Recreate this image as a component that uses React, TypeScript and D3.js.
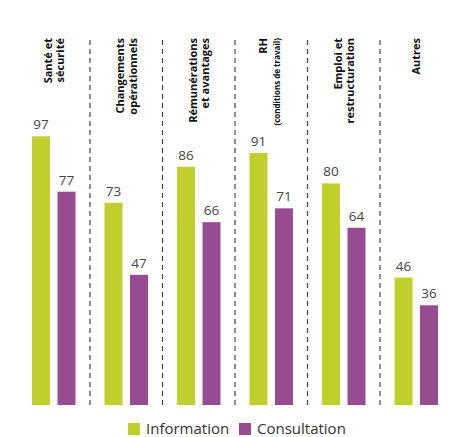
import React from "react";
import * as d3 from "d3";

const categories = ["Santé et sécurité", "Changements opérationnels", "Rémunérations et avantages", "RH", "Emploi et restructuration", "Autres"];
const labelLines = [["Santé et", "sécurité"], ["Changements", "opérationnels"], ["Rémunérations", "et avantages"], ["RH", "(conditions de travail)"], ["Emploi et", "restructuration"], ["Autres"]];
const seriesNames = ["Information", "Consultation"];
const information = [97, 73, 86, 91, 80, 46];
const consultation = [77, 47, 66, 71, 64, 36];
const colors = ["#c1cf2c", "#974c91"];

const W = 449, H = 437;

export default function App() {
  const x = d3.scaleBand<string>().domain(categories).range([16, 16 + 72.5 * categories.length]);
  const inner = d3.scaleBand<string>().domain(seriesNames).range([16, 59.5]).paddingInner(0.294).paddingOuter(0);
  const y = d3.scaleLinear().domain([0, 100]).range([405, 128]);
  const values = [information, consultation];

  return (
    <svg width={W} height={H} style={{ position: "absolute", left: 0, top: 0, background: "#fff" }} fontFamily="'Open Sans', sans-serif">
      {categories.slice(1).map((c) => (
        <line key={c} x1={x(c)! + 1.5} x2={x(c)! + 1.5} y1={40} y2={405} stroke="#444" strokeWidth={1.2} strokeDasharray="5,4" />
      ))}
      {categories.map((c, i) => (
        <g key={c}>
          {seriesNames.map((s, k) => {
            const v = values[k][i];
            const bx = x(c)! + inner(s)!;
            return (
              <g key={s}>
                <rect x={bx} y={y(v)} width={inner.bandwidth()} height={y(0) - y(v)} fill={colors[k]} />
                <text x={bx + inner.bandwidth() / 2} y={y(v) - 7} textAnchor="middle" fontSize={13.5} fill="#444">{v}</text>
              </g>
            );
          })}
          {labelLines[i].map((ln, j) => {
            const cx = x(c)! + 37.75;
            const n = labelLines[i].length;
            const bx = cx + 4 + (j - (n - 1) / 2) * 12.5 + (c === "RH" ? -2 : 0);
            const small = c === "RH" && j === 1;
            return (
              <text key={j} transform={`translate(${bx},38) rotate(-90)`} textAnchor="end" fontSize={small ? 8 : 11} fontWeight="bold" fill="#111">{ln}</text>
            );
          })}
        </g>
      ))}
      {(() => {
        const items = [
          { name: seriesNames[0], sx: 128, tx: 146 },
          { name: seriesNames[1], sx: 239, tx: 257 },
        ];
        return items.map((it, k) => (
          <g key={it.name}>
            <rect x={it.sx} y={423} width={12} height={12} fill={colors[k]} />
            <text x={it.tx} y={434} fontSize={15} fill="#333">{it.name}</text>
          </g>
        ));
      })()}
    </svg>
  );
}
